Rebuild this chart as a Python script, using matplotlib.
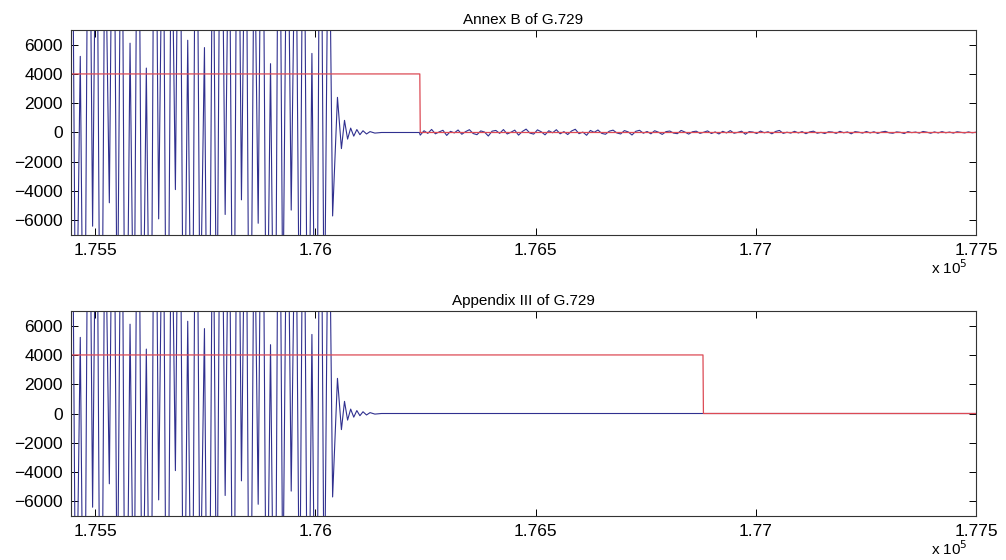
import numpy as np
import matplotlib
matplotlib.use('Agg')
import matplotlib.pyplot as plt
from matplotlib.ticker import FuncFormatter

plt.rcParams['font.family'] = ['Liberation Sans', 'DejaVu Sans']

# --- data (sample index vs amplitude) ---
x_start = 175445
x_end = 177500

# tone part: extrema of the wave (positions and values)
tone_x = [175445, 175447, 175456, 175466, 175475, 175485, 175494, 175503, 175513, 175522,
          175532, 175541, 175550, 175560, 175569, 175579, 175588, 175597, 175607, 175616,
          175626, 175635, 175644, 175654, 175663, 175673, 175682, 175691, 175701, 175710,
          175720, 175729, 175738, 175748, 175757, 175767, 175776, 175785, 175795, 175804,
          175814, 175823, 175832, 175842, 175851, 175861, 175870, 175879, 175889, 175898,
          175908, 175917, 175926, 175936, 175945, 175955, 175964, 175973, 175983, 175992,
          176002, 176011, 176020, 176030]
tone_y = [2000,
          22000, -18000, 5200, -24000, 26000, -6400, 21000, -27000, 16000,
          -4800, 25000, -15000, 23000, -26000, 6100, -17000, 27000, -19000, 4400,
          -24000, 28000, -5900, 20000, -27000, 16800, -3900, 26000, -21000, 6300,
          -22000, 27000, -14000, 5800, -28000, 19000, -17000, 25000, -5600, 18000,
          -25000, 27000, -4600, 21000, -26000, 15600, -6200, 26000, -19000, 4700,
          -24000, 27000, -13000, 20000, -5300, 18000, -16000, 24000, -22000, 5400,
          -26000, 27000, -15000, 19000]

# decay after the tone
decay_x = [176039, 176050, 176059, 176066, 176073, 176080, 176087, 176094, 176101, 176108,
           176116, 176124, 176135, 176150, 176236]
decay_y = [-5700, 2400, -1100, 830, -450, 300, -250, 200, -150, 120,
           -100, 60, -40, 0, 0]

# comfort noise after VAD step (Annex B only)
noise_y = [-180, 120, -60, 210, -90, 40, 150, -200, 80, -30, 170, -120, 60, 190, -70, -150, 110, 30, -240, 90,
           140, -60, 200, -100, 20, 160, -180, 70, 230, -40, -110, 180, 50, -160, 120, -20, 190, -90, 60, -140,
           100, 220, -80, 30, -190, 140, 10, 170, -60, -120, 90, 160, -30, -100, 130, 40, -170, 80, 150, -50,
           70, -90, 120, 20, -130, 60, 100, -40, -80, 140, 30, -110, 50, 90, -60, 20, 110, -70, 40, -100,
           80, -30, 130, -50, 10, 90, -120, 60, 30, -70, 100, -20, 50, -90, 70, 140, -60, 20, -40, 80,
           -30, 60, -80, 40, 90, -50, 10, -70, 50, 30, -60, 80, -20, 40, -90, 60, 20, -40, 70, -30,
           50, -60, 30, 80, -20, -50, 40, 10, -70, 60, -10, 30, -40, 70, 20, -50, 40, -30, 60, -20,
           30, -40, 50, 10, -30, 40, -20, 20]
noise_start = 176238

# VAD decision (x 4000)
vad_level = 4000
vad_off_annexb = 176237
vad_off_app3 = 176880

titles = ['Annex B of G.729', 'Appendix III of G.729']
xticks = [175500, 176000, 176500, 177000, 177500]
yticks = [-6000, -4000, -2000, 0, 2000, 4000, 6000]

# --- build series ---
noise_x = np.linspace(noise_start, x_end, len(noise_y))
sig_b_x = np.concatenate([tone_x, decay_x, noise_x])
sig_b_y = np.concatenate([tone_y, decay_y, noise_y])
sig_3_x = np.concatenate([tone_x, decay_x, [x_end]])
sig_3_y = np.concatenate([tone_y, decay_y, [0]])

signals = [(sig_b_x, sig_b_y), (sig_3_x, sig_3_y)]
vad_offs = [vad_off_annexb, vad_off_app3]

fig = plt.figure(figsize=(10.06, 5.6), dpi=100)
positions = [[0.0706, 0.5804, 0.8996, 0.366], [0.0706, 0.0786, 0.8996, 0.366]]

blue = '#30308f'
red = '#dc4a55'

for i in range(2):
    ax = fig.add_axes(positions[i])
    sx, sy = signals[i]
    ax.plot(sx, sy, color=blue, lw=0.8)
    off = vad_offs[i]
    ax.plot([x_start, off, off + 1, x_end], [vad_level, vad_level, 0, 0], color=red, lw=0.9)
    ax.set_xlim(x_start, x_end)
    ax.set_ylim(-7000, 7000)
    ax.set_xticks(xticks)
    ax.set_yticks(yticks)
    ax.xaxis.set_major_formatter(FuncFormatter(lambda v, p: '%g' % (v / 1e5)))
    ax.tick_params(direction='in', top=True, right=True, length=5, width=0.7,
                   labelsize=12.5, pad=6, colors='black')
    for s in ax.spines.values():
        s.set_linewidth(0.8)
        s.set_color('#333333')
    ax.set_title(titles[i], fontsize=11, pad=4)
    ax.text(0.991, -0.16, r'x 10$^5$', transform=ax.transAxes, ha='right', va='center',
            fontsize=11)

plt.savefig('out.png', dpi=100)
